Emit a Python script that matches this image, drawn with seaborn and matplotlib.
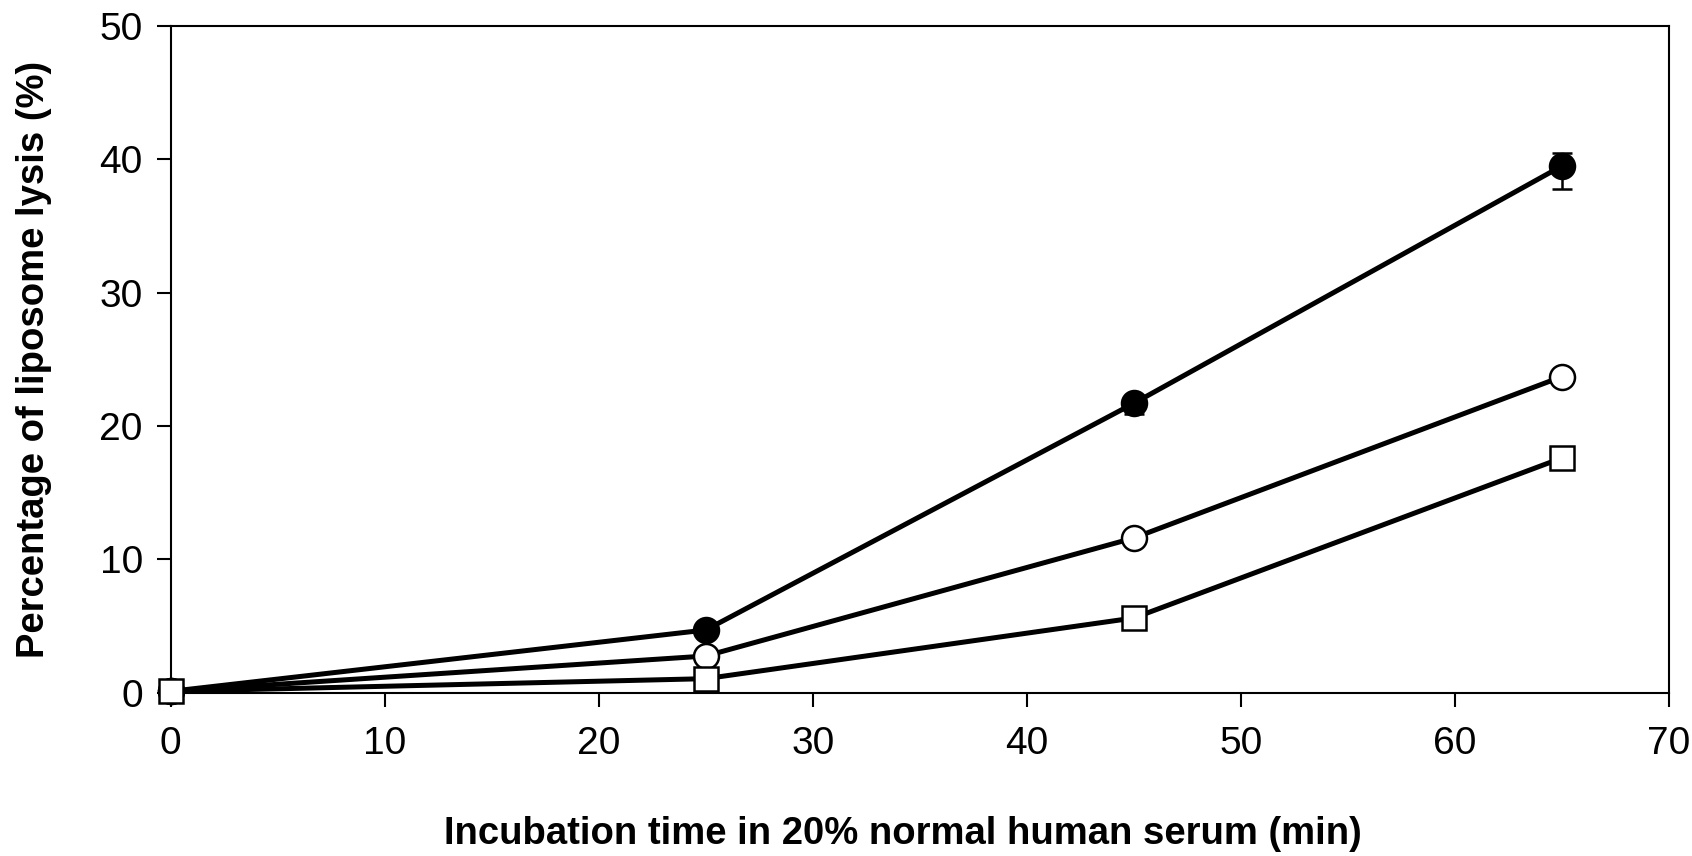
import pandas as pd
import numpy as np
import matplotlib.pyplot as plt
import seaborn as sns

# data
time_min = [0, 25, 45, 65]
lysis_filled = [0.1, 4.7, 21.7, 39.5]
lysis_open = [0.1, 2.75, 11.6, 23.7]
lysis_square = [0.1, 1.05, 5.6, 17.6]
err_filled_low = [0, 0, 0.8, 1.7]
err_filled_high = [0, 0, 0.2, 1.0]

sns.set_theme(style='ticks')
plt.rcParams['font.family'] = ['Liberation Sans', 'DejaVu Sans']
plt.rcParams['text.color'] = 'black'
plt.rcParams['axes.labelcolor'] = 'black'

fig = plt.figure(figsize=(16.92, 8.56), dpi=100)
ax = fig.add_axes([0.1008, 0.1908, 0.8856, 0.7789])

df = pd.DataFrame({'t': time_min * 3,
                   'y': lysis_filled + lysis_open + lysis_square,
                   'grp': ['filled'] * 4 + ['open'] * 4 + ['square'] * 4})

# error bars (only visible on filled circles)
ax.errorbar(time_min, lysis_filled, yerr=[err_filled_low, err_filled_high],
            fmt='none', ecolor='black', elinewidth=1.8, capsize=7, capthick=1.8, zorder=1)

styles = {'square': dict(marker='s', mfc='white', ms=17.5, z=5),
          'open': dict(marker='o', mfc='white', ms=18, z=4),
          'filled': dict(marker='o', mfc='black', ms=18, z=3)}
for g in ['filled', 'open', 'square']:
    sns.lineplot(data=df[df['grp'] == g], x='t', y='y', ax=ax, color='black',
                 linewidth=3.6, marker=styles[g]['marker'], markersize=styles[g]['ms'],
                 markerfacecolor=styles[g]['mfc'], markeredgecolor='black',
                 markeredgewidth=1.8, zorder=styles[g]['z'], clip_on=False)

ax.set_xlim(0, 70)
ax.set_ylim(0, 50)
ax.set_xticks(range(0, 71, 10))
ax.set_yticks(range(0, 51, 10))
ax.tick_params(axis='both', direction='out', length=10, width=1.5, labelsize=28, colors='black')
ax.tick_params(axis='x', pad=14)
ax.tick_params(axis='y', pad=10)
for s in ax.spines.values():
    s.set_visible(True)
    s.set_linewidth(1.5)
    s.set_color('black')

ax.set_xlabel('Incubation time in 20% normal human serum (min)', fontsize=27.5,
              fontweight='bold', labelpad=40)
ax.xaxis.set_label_coords(0.489, -0.185)
ax.set_ylabel('Percentage of liposome lysis (%)', fontsize=27.5, fontweight='bold', labelpad=34)
ax.grid(False)

plt.savefig('out.png', dpi=100)
plt.close()
